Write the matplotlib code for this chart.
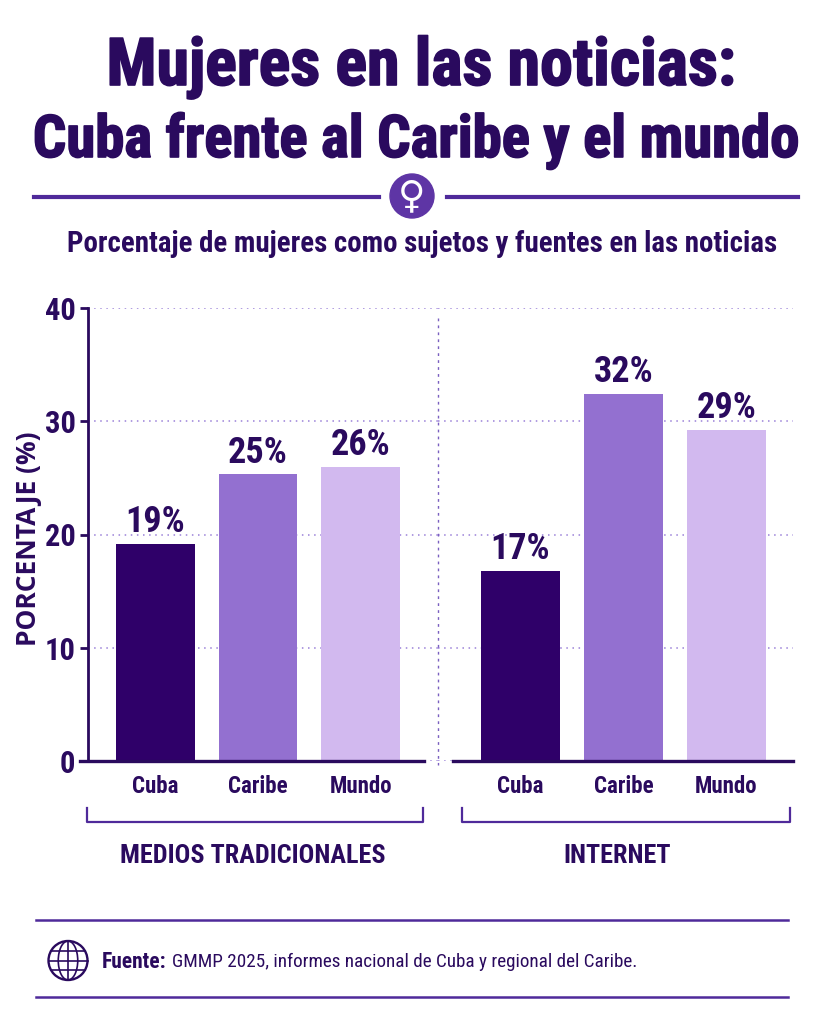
import matplotlib
matplotlib.use("Agg")
import matplotlib.pyplot as plt
import matplotlib.patheffects as pe
from matplotlib.patches import Circle, Ellipse

plt.rcParams["font.family"] = ["Roboto Condensed", "DejaVu Sans"]

categories = ["Cuba", "Caribe", "Mundo"]
trad_values = [19.2, 25.3, 26.0]
net_values = [16.8, 32.4, 29.2]
trad_labels = ["19%", "25%", "26%"]
net_labels = ["17%", "32%", "29%"]
y_ticks = [0, 10, 20, 30, 40]
bar_colors = ["#2f0069", "#9370d0", "#d2b9ef"]

DARK = "#2a0a5e"
LINE = "#4f2a9a"
GRID = "#9a80d8"
W, H = 819, 1024

fig = plt.figure(figsize=(W / 100, H / 100), dpi=100, facecolor="white")


def make_axes(x0, x1):
    return fig.add_axes([x0 / W, 1 - 761 / H, (x1 - x0) / W, (761 - 308) / H])


# left and right panels, they meet at the dotted divider
ax1 = make_axes(88, 438)
ax2 = make_axes(438, 793)
ax1.set_xlim(-0.659, 2.756)
ax2.set_xlim(-0.801, 2.646)

for ax, vals, labs in [(ax1, trad_values, trad_labels), (ax2, net_values, net_labels)]:
    ax.bar(range(3), vals, width=0.77, color=bar_colors, zorder=3)
    for i, v in enumerate(vals):
        ax.text(i, v + 0.35, labs[i], ha="center", va="bottom", fontsize=26,
                fontweight="bold", color=DARK)
    ax.set_ylim(0, 40)
    ax.set_yticks(y_ticks)
    ax.grid(axis="y", color=GRID, linestyle=(0, (1, 3)), linewidth=1.1, zorder=0)
    ax.set_xticks(range(3))
    ax.set_xticklabels(categories, fontsize=16.5, fontweight="bold", color=DARK)
    ax.tick_params(axis="x", length=0, pad=10)
    for s in ["top", "right", "bottom", "left"]:
        ax.spines[s].set_visible(False)
    ax.patch.set_alpha(0)

ax1.spines["left"].set_visible(True)
ax1.spines["left"].set_color(DARK)
ax1.spines["left"].set_linewidth(2)
ax1.set_yticklabels([str(t) for t in y_ticks], fontsize=22, fontweight="bold", color=DARK)
ax1.tick_params(axis="y", length=6, width=2, color=DARK, pad=3)
ax2.tick_params(axis="y", length=0, labelleft=False)

# overlay in pixel units for the title block, brackets and footer
ov = fig.add_axes([0, 0, 1, 1], zorder=5)
ov.set_xlim(0, W)
ov.set_ylim(H, 0)
ov.axis("off")

heavy = [pe.withStroke(linewidth=1.2, foreground=DARK)]
ov.text(421.5, 85, "Mujeres en las noticias:", ha="center", va="baseline", fontsize=47.5,
        fontweight="bold", color=DARK, path_effects=heavy)
ov.text(416.5, 157, "Cuba frente al Caribe y el mundo", ha="center", va="baseline", fontsize=42.3,
        fontweight="bold", color=DARK, path_effects=heavy)

ov.plot([34, 379], [197, 197], color=LINE, lw=3)
ov.plot([447, 798], [197, 197], color=LINE, lw=3)
ov.add_patch(Circle((412, 196), 22, color="#5e35a5"))
ov.text(412, 197, "\u2640", ha="center", va="center", fontsize=27, color="white",
        fontweight="bold", family="DejaVu Sans")

ov.text(422.5, 252, "Porcentaje de mujeres como sujetos y fuentes en las noticias", ha="center",
        va="baseline", fontsize=20.8, fontweight="bold", color=DARK)

ov.text(29, 539, "PORCENTAJE (%)", rotation=90, ha="center", va="center", fontsize=19,
        fontweight="bold", color=DARK, family="Open Sans")

# divider and baselines
ov.plot([438, 438], [318, 765], color="#7a5fc0", lw=1, linestyle=(0, (2, 3)))
ov.plot([80, 424], [761, 761], color=DARK, lw=2.4)
ov.plot([453, 793], [761, 761], color=DARK, lw=2.4)

# group brackets
for x0, x1, xc, name in [(87, 423, 253, "MEDIOS TRADICIONALES"), (462, 790, 617, "INTERNET")]:
    ov.plot([x0, x0, x1, x1], [808, 822, 822, 808], color=LINE, lw=1.6)
    ov.text(xc, 856, name, ha="center", va="center", fontsize=18.8, fontweight="bold", color=DARK)

# footer
ov.plot([36, 788], [920, 920], color=LINE, lw=1.8)
ov.plot([36, 788], [997, 997], color=LINE, lw=1.8)
gx, gy, gr = 68, 960.5, 19.5
ov.add_patch(Circle((gx, gy), gr, fill=False, ec=DARK, lw=1.7))
ov.add_patch(Ellipse((gx, gy), gr, gr * 2, fill=False, ec=DARK, lw=1.2))
ov.plot([gx, gx], [gy - gr, gy + gr], color=DARK, lw=1.2)
ov.plot([gx - gr, gx + gr], [gy, gy], color=DARK, lw=1.2)
ov.plot([gx - 17, gx + 17], [gy - 9.5, gy - 9.5], color=DARK, lw=1.2)
ov.plot([gx - 17, gx + 17], [gy + 9.5, gy + 9.5], color=DARK, lw=1.2)

ov.text(102, 962, "Fuente:", ha="left", va="center", fontsize=15.5, fontweight="bold", color=DARK)
ov.text(172, 962, "GMMP 2025, informes nacional de Cuba y regional del Caribe.", ha="left",
        va="center", fontsize=13.8, color=DARK)

fig.savefig("out.png", dpi=100)
